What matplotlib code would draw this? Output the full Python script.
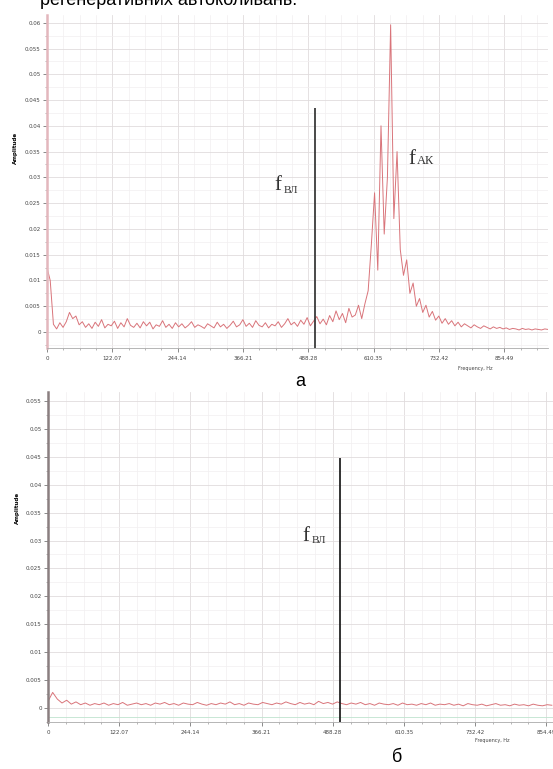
import numpy as np
import matplotlib
matplotlib.use('Agg')
import matplotlib.pyplot as plt
from matplotlib.ticker import MultipleLocator, AutoMinorLocator, FuncFormatter

#%%
# spectrum a: amplitude (x1e-3), bins every 6 Hz starting at 0
df_a = 6.0
amp_a = [12.5, 10.0, 1.5, 0.6, 1.8, 0.9, 2.0, 3.8, 2.6, 3.1, 1.4,
         2.0, 0.9, 1.6, 0.7, 1.9, 1.1, 2.4, 0.8, 1.5, 1.2,
         2.1, 0.7, 1.8, 1.0, 2.6, 1.3, 0.9, 1.7, 0.8, 2.0,
         1.2, 1.9, 0.6, 1.4, 1.1, 2.2, 0.9, 1.5, 0.7, 1.8,
         1.0, 1.6, 0.8, 1.3, 2.0, 0.9, 1.4, 1.1, 0.7, 1.6,
         1.2, 0.8, 1.9, 1.0, 1.5, 0.7, 1.3, 2.1, 1.0, 1.4,
         2.4, 1.1, 1.7, 0.9, 2.2, 1.3, 1.0, 1.8, 0.8, 1.5,
         1.2, 2.0, 0.9, 1.6, 2.6, 1.4, 1.9, 1.1, 2.3, 1.5,
         2.8, 1.2, 2.1, 3.0, 1.6, 2.5, 1.4, 3.2, 2.0, 4.1,
         2.4, 3.6, 1.8, 4.6, 2.9, 3.3, 5.2, 2.6, 5.5, 8.0,
         17.0, 27.0, 12.0, 40.0, 19.0, 30.0, 59.6, 22.0, 35.0, 16.0,
         11.0, 14.0, 7.5, 9.5, 5.0, 6.5, 3.8, 5.2, 2.9, 4.0,
         2.3, 3.1, 1.7, 2.6, 1.5, 2.2, 1.2, 1.9, 1.0, 1.6,
         1.2, 0.8, 1.4, 1.0, 0.7, 1.2, 0.9, 0.6, 1.0, 0.7,
         0.9, 0.6, 0.8, 0.5, 0.7, 0.6, 0.4, 0.7, 0.5, 0.6,
         0.4, 0.6, 0.5, 0.4, 0.6, 0.5]

# spectrum b: amplitude (x1e-3), bins every 8 Hz starting at 0
df_b = 8.0
amp_b = [1.2, 2.8, 1.6, 0.9, 1.4, 0.7, 1.1, 0.6, 0.9, 0.5, 0.8,
         0.6, 0.9, 0.5, 0.8, 0.6, 1.0, 0.5, 0.7, 0.9, 0.6,
         0.8, 0.5, 0.9, 0.7, 1.0, 0.6, 0.8, 0.5, 0.9, 0.7,
         0.6, 1.0, 0.7, 0.5, 0.8, 0.6, 0.9, 0.7, 1.1, 0.6,
         0.8, 0.5, 0.9, 0.7, 0.6, 1.0, 0.8, 0.6, 0.9, 0.7,
         1.1, 0.8, 0.6, 1.0, 0.7, 0.9, 0.6, 1.2, 0.8, 1.0,
         0.7, 1.1, 0.8, 0.6, 0.9, 0.7, 1.0, 0.6, 0.8, 0.5,
         0.9, 0.7, 0.6, 0.8, 0.5, 0.9, 0.6, 0.7, 0.5, 0.8,
         0.6, 0.9, 0.5, 0.7, 0.6, 0.8, 0.5, 0.7, 0.4, 0.8,
         0.6, 0.5, 0.7, 0.4, 0.6, 0.8, 0.5, 0.6, 0.4, 0.7,
         0.5, 0.6, 0.4, 0.7, 0.5, 0.4, 0.6, 0.5]

# marker lines: supply-line frequency and its height in each panel
f_vl = 500.0
vl_height_a = 0.0434
vl_height_b = 0.0448

x_ticks = [0, 122.07, 244.14, 366.21, 488.28, 610.35, 732.42, 854.49]
x_labels = ['0', '122.07', '244.14', '366.21', '488.28', '610.35', '732.42', '854.49']

#%%
W, H = 553, 769
fig = plt.figure(figsize=(W / 100, H / 100), dpi=100)

def px_axes(l, t, r, b):
    return fig.add_axes([l / W, 1 - b / H, (r - l) / W, (b - t) / H])

def style(ax, xmax, ylim, spine_color):
    ax.set_xlim(0, xmax)
    ax.set_ylim(*ylim)
    ax.set_xticks(x_ticks)
    ax.set_xticklabels(x_labels)
    ax.xaxis.set_minor_locator(AutoMinorLocator(4))
    ax.yaxis.set_major_locator(MultipleLocator(0.005))
    ax.yaxis.set_minor_locator(AutoMinorLocator(2))
    ax.yaxis.set_major_formatter(FuncFormatter(lambda v, p: '0' if abs(v) < 1e-9 else '%g' % round(v, 4)))
    ax.tick_params(axis='both', which='major', labelsize=4, colors='#777777',
                   labelcolor='#444444', length=3, width=0.6, pad=1.5)
    ax.tick_params(axis='x', which='major', pad=3)
    ax.tick_params(axis='both', which='minor', colors='#999999', length=1.5, width=0.5)
    ax.grid(which='major', color='#e0dcdd', linewidth=0.6)
    ax.grid(which='minor', color='#f2eff0', linewidth=0.5)
    ax.set_axisbelow(True)
    for s in ['top', 'right']:
        ax.spines[s].set_visible(False)
    ax.spines['bottom'].set_color('#aaaaaa')
    ax.spines['bottom'].set_linewidth(0.6)
    ax.spines['left'].set_color(spine_color)
    ax.spines['left'].set_linewidth(1.8)

def f_label(ax, x, y, sub, size=8, dy=-2):
    ax.text(x, y, 'f', family='Liberation Serif', fontsize=15, color='#333333',
            ha='left', va='baseline')
    ax.annotate(sub, xy=(x, y), xytext=(6.5, dy), textcoords='offset points',
                family='Liberation Serif', fontsize=size, color='#333333',
                ha='left', va='baseline')

sig = '#d9747a'

# --- panel a ---
ax1 = px_axes(47, 15, 548, 348)
fa = np.arange(len(amp_a)) * df_a
ax1.plot(fa, np.array(amp_a) * 1e-3, color=sig, linewidth=0.7)
ax1.vlines(f_vl, -0.0031, vl_height_a, color='#3a3a3a', linewidth=1.3, zorder=5)
style(ax1, 936, (-0.0031, 0.0615), '#e3b7bd')
ax1.set_ylabel('Amplitude', fontsize=4, fontweight='bold')
ax1.yaxis.set_label_coords(-0.058, 0.60)
ax1.text(0.855, -0.065, 'Frequency, Hz', transform=ax1.transAxes, fontsize=3.5,
         color='#444444', ha='center')
f_label(ax1, 425, 0.0275, 'ВЛ')
f_label(ax1, 675, 0.0325, 'АК', size=9, dy=0)

# --- panel b ---
ax2 = px_axes(48, 392, 553, 722)
fb = np.arange(len(amp_b)) * df_b
ax2.plot(fb, np.array(amp_b) * 1e-3, color=sig, linewidth=0.7)
ax2.axhline(-0.0016, color='#bfe3cf', linewidth=0.6)
ax2.vlines(f_vl, -0.0025, vl_height_b, color='#222222', linewidth=1.3, zorder=5)
style(ax2, 866, (-0.0025, 0.0566), '#8a7f80')
ax2.set_ylabel('Amplitude', fontsize=4, fontweight='bold')
ax2.yaxis.set_label_coords(-0.055, 0.65)
ax2.text(0.88, -0.06, 'Frequency, Hz', transform=ax2.transAxes, fontsize=3.5,
         color='#444444', ha='center')
f_label(ax2, 437, 0.0300, 'ВЛ')

# captions
fig.text(40 / W, 1 - 5 / H, 'регенеративних автоколивань.', fontsize=13,
         family='Liberation Sans', ha='left', va='baseline')
fig.text(300 / W, 1 - 381 / H, 'а', fontsize=13, family='Liberation Sans',
         ha='center', va='center')
fig.text(397 / W, 1 - 757 / H, 'б', fontsize=13, family='Liberation Sans',
         ha='center', va='center')

plt.savefig('out.png', dpi=100)
